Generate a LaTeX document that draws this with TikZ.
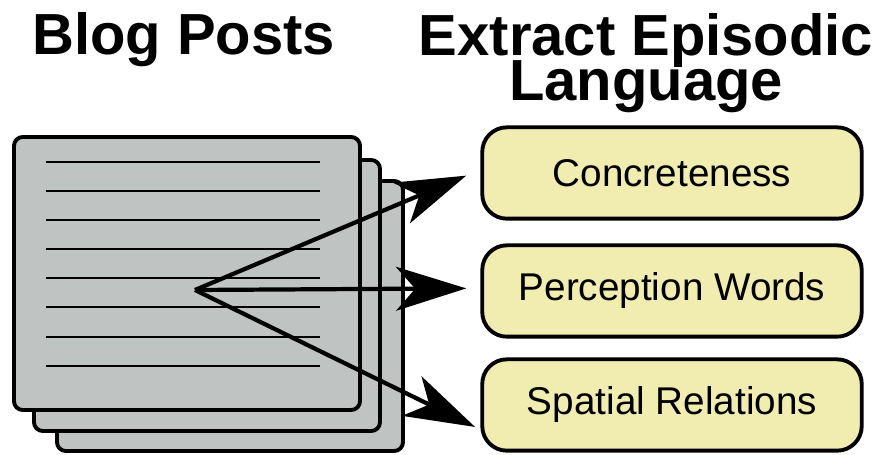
\documentclass[tikz,border=0pt]{standalone}
\usepackage{fontspec}
\setmainfont{Liberation Sans}
\usetikzlibrary{arrows.meta,calc}

\definecolor{pagegray}{RGB}{191,195,193}
\definecolor{featyellow}{RGB}{241,236,176}

\newcommand{\titlefont}{\fontsize{33}{25.5}\selectfont\bfseries\lineskiplimit=-40pt\relax}

\begin{document}
\begin{tikzpicture}[
            x=0.02cm, y=-0.02cm,
            title/.style={
                font=\titlefont,
                inner sep=0pt,
                align=center
            },
            page/.style={
                draw,
                fill=pagegray,
                line width=2.2pt,
                rounded corners=5pt
            },
            textline/.style={line width=1.2pt},
            feature/.style={
                draw,
                fill=featyellow,
                line width=2.2pt,
                rounded corners=14pt,
                minimum width=216pt,
                minimum height=52pt,
                font=\fontsize{22}{26}\selectfont
            },
            arr/.style={
                line width=2.4pt,
                -{Stealth[length=40pt,width=25pt,inset=11pt]}
            }
        ]
            \useasboundingbox (0,0) rectangle (880,455);

            \node[title, anchor=base west] (posts) at (32,55) {Blog Posts};
            \node[title, anchor=north] (extract) at (646,13) {Extract Episodic\\Language};

            \draw[page] (57,181) rectangle (403,451);
            \draw[page] (34,160) rectangle (380,431);
            \draw[page] (14,137) rectangle (360,410);

            \draw[textline] (46,162) -- (320,162);
            \draw[textline] (46,191) -- (320,191);
            \draw[textline] (46,220) -- (320,220);
            \draw[textline] (46,249) -- (320,249);
            \draw[textline] (46,278) -- (320,278);
            \draw[textline] (46,307) -- (320,307);
            \draw[textline] (46,337) -- (320,337);
            \draw[textline] (46,366) -- (320,366);

            \node[feature] (concrete) at (672,173) {Concreteness};
            \node[feature] (percept) at (672,291) {Perception Words};
            \node[feature] (spatial) at (672,405) {Spatial Relations};

            \coordinate (src) at (195,290);

            \draw[arr] (src) -- ([xshift=-8pt,yshift=-1.5pt]concrete.west);
            \draw[arr] (src) -- ([xshift=-8pt,yshift=1.5pt]percept.west);
            \draw[arr] (src) -- ([xshift=-3pt,yshift=-12.5pt]spatial.west);
        \end{tikzpicture}
\end{document}
